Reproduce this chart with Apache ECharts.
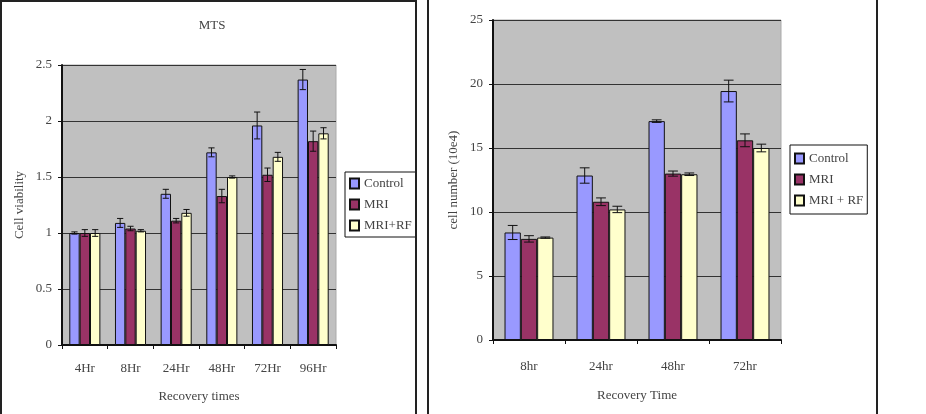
<!DOCTYPE html>
<html>
<head>
<meta charset="utf-8">
<script src="https://cdn.jsdelivr.net/npm/echarts@6/dist/echarts.min.js"></script>
<style>
  html, body { margin: 0; padding: 0; background: #fff; }
  #chart { position: absolute; left: 0; top: 0; width: 926px; height: 414px; }
  .panel { position: absolute; box-sizing: border-box; border: 2px solid #222; pointer-events: none; }
</style>
</head>
<body>
<div id="chart"></div>
<div class="panel" style="left:0;top:0;width:417px;height:430px"></div>
<div class="panel" style="left:427px;top:-10px;width:451px;height:440px"></div>
<script>
// MTS (left panel)
const leftCats = ["4Hr", "8Hr", "24Hr", "48Hr", "72Hr", "96Hr"];
const leftControl = [1.0, 1.09, 1.35, 1.72, 1.96, 2.37];
const leftControlErr = [0.01, 0.04, 0.04, 0.04, 0.12, 0.09];
const leftMri = [1.0, 1.04, 1.11, 1.33, 1.52, 1.82];
const leftMriErr = [0.03, 0.02, 0.02, 0.06, 0.06, 0.09];
const leftRf = [1.0, 1.02, 1.18, 1.5, 1.68, 1.89];
const leftRfErr = [0.03, 0.01, 0.03, 0.01, 0.04, 0.05];

// cell number (right panel)
const rightCats = ["8hr", "24hr", "48hr", "72hr"];
const rightControl = [8.4, 12.85, 17.1, 19.45];
const rightControlErr = [0.55, 0.6, 0.1, 0.85];
const rightMri = [7.9, 10.8, 13.0, 15.6];
const rightMriErr = [0.25, 0.3, 0.2, 0.5];
const rightRf = [8.0, 10.2, 12.95, 15.0];
const rightRfErr = [0.05, 0.25, 0.1, 0.3];

const colors = ["#9999FF", "#993366", "#FFFFCC"];
const font = "Liberation Serif";
const textColor = "#444";
const catGap = 0.32;

function bar(name, data, idx, color) {
  return {
    name,
    type: "bar",
    xAxisIndex: idx,
    yAxisIndex: idx,
    data,
    barGap: "0%",
    barCategoryGap: catGap * 100 + "%",
    itemStyle: { color, borderColor: "#111", borderWidth: 1 },
  };
}

// error bars drawn through the axes, shifted onto the matching bar
function errors(name, vals, errs, idx, slot) {
  return {
    name,
    type: "custom",
    xAxisIndex: idx,
    yAxisIndex: idx,
    z: 10,
    encode: { x: 0, y: [1, 2] },
    data: vals.map((v, i) => [i, v - errs[i], v + errs[i]]),
    renderItem: (params, api) => {
      let lo = api.coord([api.value(0), api.value(1)]);
      let hi = api.coord([api.value(0), api.value(2)]);
      let w = api.size([1, 0])[0];
      let bw = (w * (1 - catGap)) / 3;
      let x = lo[0] + (slot - 1) * bw;
      let cap = Math.max(3, bw * 0.3);
      let style = { stroke: "#111", lineWidth: 1 };
      return {
        type: "group",
        children: [
          { type: "line", shape: { x1: x, y1: hi[1], x2: x, y2: lo[1] }, style },
          { type: "line", shape: { x1: x - cap, y1: hi[1], x2: x + cap, y2: hi[1] }, style },
          { type: "line", shape: { x1: x - cap, y1: lo[1], x2: x + cap, y2: lo[1] }, style },
        ],
      };
    },
  };
}

function xAxis(idx, data, name, gap, margin) {
  return {
    type: "category",
    gridIndex: idx,
    data,
    name,
    nameLocation: "middle",
    nameGap: gap,
    nameTextStyle: { fontFamily: font, fontSize: 13, color: textColor },
    axisLine: { lineStyle: { color: "#111", width: 2 } },
    axisTick: { show: true, length: 4, inside: false, lineStyle: { color: "#111" } },
    axisLabel: { fontFamily: font, fontSize: 13, color: textColor, margin },
  };
}

function yAxis(idx, max, interval, name, gap) {
  return {
    type: "value",
    gridIndex: idx,
    min: 0,
    max,
    interval,
    name,
    nameLocation: "middle",
    nameGap: gap,
    nameRotate: 90,
    nameTextStyle: { fontFamily: font, fontSize: 13, color: textColor },
    axisLine: { show: true, lineStyle: { color: "#111", width: 2 } },
    axisTick: { show: true, length: 4, lineStyle: { color: "#111" } },
    axisLabel: { fontFamily: font, fontSize: 13, color: textColor, margin: 10 },
    splitLine: { show: true, lineStyle: { color: "#333", width: 1 } },
  };
}

function legend(left, top, names, pad) {
  return {
    left,
    top,
    orient: "vertical",
    data: names,
    icon: "rect",
    itemWidth: 9,
    itemHeight: 10,
    itemGap: 8,
    padding: pad,
    backgroundColor: "#fff",
    borderColor: "#111",
    borderWidth: 1,
    borderRadius: 0,
    textStyle: { fontFamily: font, fontSize: 13, color: textColor },
    selectedMode: false,
  };
}

let options = {
  animation: false,
  backgroundColor: "transparent",
  title: {
    text: "MTS",
    left: 207,
    top: 14,
    textAlign: "center",
    textStyle: { fontFamily: font, fontSize: 13, fontWeight: "normal", color: textColor },
  },
  grid: [
    { left: 62, right: 590, top: 65, bottom: 69, show: true, backgroundColor: "#C0C0C0", borderColor: "#aaa", borderWidth: 1 },
    { left: 493, right: 145, top: 20, bottom: 74, show: true, backgroundColor: "#C0C0C0", borderColor: "#aaa", borderWidth: 1 },
  ],
  xAxis: [
    xAxis(0, leftCats, "Recovery times", 45, 17),
    xAxis(1, rightCats, "Recovery Time", 49, 20),
  ],
  yAxis: [
    yAxis(0, 2.5, 0.5, "Cell viability", 36),
    yAxis(1, 25, 5, "cell number (10e4)", 33),
  ],
  legend: [
    legend(345, 172, ["Control", "MRI", "MRI+RF"], [5, 4, 5, 4]),
    legend(790, 145, ["Control", "MRI", "MRI + RF"], [7, 4, 7, 4]),
  ],
  series: [
    bar("Control", leftControl, 0, colors[0]),
    bar("MRI", leftMri, 0, colors[1]),
    bar("MRI+RF", leftRf, 0, colors[2]),
    errors("errL0", leftControl, leftControlErr, 0, 0),
    errors("errL1", leftMri, leftMriErr, 0, 1),
    errors("errL2", leftRf, leftRfErr, 0, 2),
    bar("Control", rightControl, 1, colors[0]),
    bar("MRI", rightMri, 1, colors[1]),
    bar("MRI + RF", rightRf, 1, colors[2]),
    errors("errR0", rightControl, rightControlErr, 1, 0),
    errors("errR1", rightMri, rightMriErr, 1, 1),
    errors("errR2", rightRf, rightRfErr, 1, 2),
  ],
};

var chart = echarts.init(document.getElementById("chart"));
chart.setOption(options);
window.addEventListener("resize", function () {
  chart.resize();
});
</script>
</body>
</html>
